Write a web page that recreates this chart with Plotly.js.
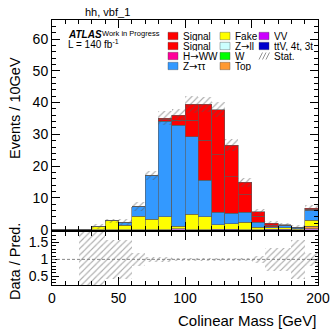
<!DOCTYPE html>
<html>
<head>
<meta charset="utf-8">
<script src="https://cdn.plot.ly/plotly-3.0.1.min.js"></script>
<style>html,body{margin:0;padding:0;background:#fff;}#plot{width:332px;height:330px;}</style>
</head>
<body>
<div id="plot"></div>
<script>
// ---- data (10 GeV bins, 0-200 GeV) ----
const binCenters = [5,15,25,35,45,55,65,75,85,95,105,115,125,135,145,155,165,175,185,195];
const vvVals     = [0,0,0,0,0,0,0,0,0,0.3,0,0,0.1,0.1,0,0,0.1,0.1,0,0.2];
const topVals    = [0,0,0,0,0,0,0,0,0,0,0,0,0,0,0,0,0,0,0,0.9];
const fakeVals   = [0,0,0,0.9,2.8,1.4,4.2,3.3,4.0,0.8,4.8,4.0,1.5,1.8,2.3,0.8,0.5,0.5,0.2,1.9];
const zttVals    = [0,0,0,0,0,0.9,3.0,13.7,30.2,31.7,24.4,11.6,3.8,3.2,3.1,1.5,0.3,0.6,0.5,3.1];
const sigAVals   = [0,0,0,0,0,0,0,0,0.4,1.6,5.2,12.5,18.1,11.5,5.6,1.9,0.5,0.2,0,0.3];
const sigBVals   = [0,0,0,0,0,0,0,0,0.4,1.6,5.0,11.3,14.3,10.0,3.9,1.4,0.6,0.2,0,0.3];
const statErr    = [0,0,0,0.8,0.7,1.0,1.4,1.5,2.2,2.0,2.6,2.5,2.4,1.8,1.4,1.0,0.7,0.6,0.8,0.9];
const ratioErr   = [0,0,1,1,0.57,0.57,0.2,0.08,0.08,0.05,0.05,0.05,0.05,0.05,0.05,0.1,0.35,0.35,0.57,0.2];
const xTickVals  = [0,50,100,150,200];

// ---- colours ----
const C = {
  signal:'#ff0000', hww:'#ff0099', ztt:'#3399ff', fake:'#ffff00', zll:'#ccffff',
  w:'#00ff00', top:'#ff9933', vv:'#cc00ff', ttv:'#0000cc'
};
const outline = {color:'rgba(90,90,90,0.75)', width:0.8};
const hatch = {shape:'/', fgcolor:'#555', bgcolor:'rgba(0,0,0,0)', size:4.5, solidity:0.25, fillmode:'overlay'};

const total = binCenters.map((_,i)=>vvVals[i]+topVals[i]+fakeVals[i]+zttVals[i]+sigAVals[i]+sigBVals[i]);

function stackTrace(name, vals, color){
  return {type:'bar', x:binCenters, y:vals, name:name, xaxis:'x', yaxis:'y',
    width:10, marker:{color:color, line:outline}, hoverinfo:'skip'};
}
const traces = [
  stackTrace('VV', vvVals, C.vv),
  stackTrace('Top', topVals, C.top),
  stackTrace('Fake', fakeVals, C.fake),
  stackTrace('Z→ττ', zttVals, C.ztt),
  stackTrace('Signal', sigAVals, C.signal),
  stackTrace('Signal', sigBVals, C.signal),
  { type:'bar', x:binCenters, y:statErr.map(e=>2*e), base:total.map((t,i)=>t-statErr[i]),
    xaxis:'x', yaxis:'y', width:10, name:'Stat.',
    marker:{color:'rgba(0,0,0,0)', line:{width:0}, pattern:hatch}, hoverinfo:'skip'},
  { type:'bar', x:binCenters, y:ratioErr.map(e=>2*e), base:ratioErr.map(e=>1-e),
    xaxis:'x2', yaxis:'y2', width:10, name:'Stat. ratio',
    marker:{color:'rgba(0,0,0,0)', line:{width:0}, pattern:hatch}, hoverinfo:'skip'}
];

// ---- pixel helpers for paper coordinates ----
const L=52, R=318, T=20, B=285;
const px = x => (x-L)/(R-L);
const py = y => (B-y)/(B-T);

const FONT = 'Liberation Sans, Arial, Helvetica, sans-serif';
const ARROW = '<span style="font-family:DejaVu Sans">→</span>';
const annotations = [];
const shapes = [];

function txt(text, x, y, size, opts){
  annotations.push(Object.assign({text:text, x:px(x), y:py(y), xref:'paper', yref:'paper',
    showarrow:false, xanchor:'left', yanchor:'middle', font:{family:FONT, size:size, color:'black'}}, opts||{}));
}

txt('hh, vbf_1', 107.5, 12.5, 11, {xanchor:'center'});
txt('<b><i>ATLAS</i></b>', 66, 34.5, 10);
txt('Work in Progress', 100, 33.2, 7.5);
txt('L = 140 fb<sup>-1</sup>', 66, 43.5, 10);
txt('Events / 10GeV', 15, 108, 14.5, {xanchor:'center', textangle:-90});
txt('Data / Pred.', 15, 262, 14.5, {xanchor:'center', textangle:-90});
txt('Colinear Mass [GeV]', 318, 320, 15, {xanchor:'right'});

// ---- legend (drawn manually, ROOT-like compact layout) ----
const legCols = [
  {box:168, items:[['Signal',C.signal],['Signal',C.signal],['H'+ARROW+'WW',C.hww],['Z'+ARROW+'ττ',C.ztt]]},
  {box:220, items:[['Fake',C.fake],['Z'+ARROW+'ll',C.zll],['W',C.w],['Top',C.top]]},
  {box:259, items:[['VV',C.vv],['ttV, 4t, 3t',C.ttv],['Stat.',null]]}
];
const legRows = [36,46,56,66];
legCols.forEach(col=>{
  col.items.forEach((it,r)=>{
    const yc = legRows[r];
    if(it[1]){
      shapes.push({type:'rect', xref:'paper', yref:'paper', x0:px(col.box), x1:px(col.box+10),
        y0:py(yc+3.7), y1:py(yc-3.7), fillcolor:it[1], line:{color:'rgba(60,60,60,0.6)', width:0.6}});
    } else {
      for(let k=0;k<3;k++){
        const x0 = col.box + k*3.5;
        shapes.push({type:'line', xref:'paper', yref:'paper', x0:px(x0), x1:px(x0+3.5),
          y0:py(yc+3.5), y1:py(yc-3.5), line:{color:'#777', width:0.8}});
      }
    }
    txt(it[0], col.box+14, yc, 10, {height:10, valign:'middle', borderpad:0});
  });
});

// ratio reference line at 1
shapes.push({type:'line', xref:'x2', yref:'y2', x0:0, x1:200, y0:1, y1:1,
  line:{color:'#888', width:1, dash:'3px,2px'}});

const axBase = {showline:true, mirror:'allticks', linecolor:'black', linewidth:1,
  ticks:'inside', tickcolor:'black', tickwidth:1, showgrid:false, zeroline:false};

const layout = {
  width:332, height:330,
  margin:{l:52, r:14, t:20, b:45, pad:0},
  paper_bgcolor:'white', plot_bgcolor:'white',
  barmode:'stack', bargap:0, showlegend:false,
  font:{family:FONT, size:14, color:'black'},
  xaxis:Object.assign({}, axBase, {anchor:'y', domain:[0,1], range:[0,200], tickvals:xTickVals,
    showticklabels:false, ticklen:8, minor:{dtick:10, tick0:0, ticklen:4, ticks:'inside', tickcolor:'black'}}),
  yaxis:Object.assign({}, axBase, {anchor:'x', domain:[0.209,1], range:[0,66], dtick:10, tick0:0,
    ticklen:8, minor:{dtick:2, tick0:0, ticklen:4, ticks:'inside', tickcolor:'black'},
    tickfont:{family:FONT, size:14}}),
  xaxis2:Object.assign({}, axBase, {anchor:'y2', domain:[0,1], range:[0,200], tickvals:xTickVals,
    ticklen:8, minor:{dtick:10, tick0:0, ticklen:4, ticks:'inside', tickcolor:'black'},
    tickfont:{family:FONT, size:14}}),
  yaxis2:Object.assign({}, axBase, {anchor:'x2', domain:[0,0.201], range:[0.24,1.82], dtick:0.5, tick0:0,
    ticklen:7, minor:{dtick:0.1, tick0:0, ticklen:3.5, ticks:'inside', tickcolor:'black'},
    tickfont:{family:FONT, size:14}}),
  annotations:annotations,
  shapes:shapes
};

Plotly.newPlot('plot', traces, layout, {staticPlot:true, displayModeBar:false});
</script>
</body>
</html>
